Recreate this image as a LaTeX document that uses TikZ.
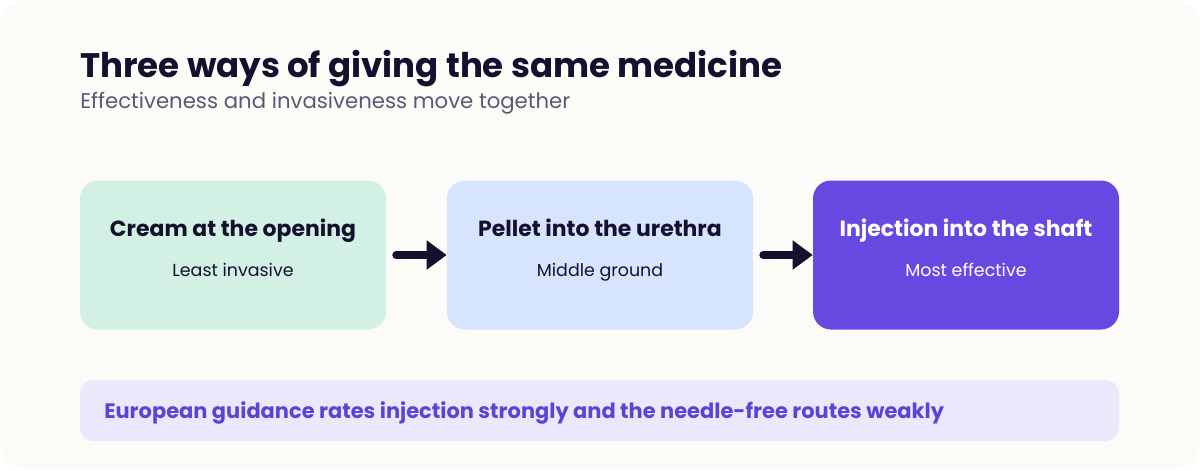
\documentclass[tikz,border=0pt]{standalone}
\usepackage{fontspec}
\setmainfont{Poppins}
\usepackage{tikz}
\usetikzlibrary{positioning, calc, arrows.meta}
\definecolor{ink}{HTML}{14112F}
\definecolor{subgray}{HTML}{5B5873}
\definecolor{paper}{HTML}{FDFBF7}
\definecolor{mint}{HTML}{D3F0E4}
\definecolor{skyblue}{HTML}{D6E4FD}
\definecolor{violet}{HTML}{6549E0}
\definecolor{lilac}{HTML}{ECE8FC}
\definecolor{notetext}{HTML}{5B43D6}

\begin{document}
\begin{tikzpicture}[x=0.025cm, y=-0.025cm,
    route/.style={rectangle, rounded corners=18*0.025cm, minimum width=306*0.025cm, minimum height=149*0.025cm, inner sep=0pt},
    routetitle/.style={anchor=base, inner sep=0pt, font=\fontsize{15.6}{18}\selectfont\bfseries, text=ink},
    routesub/.style={anchor=base, inner sep=0pt, font=\fontsize{12.4}{14}\selectfont, text=ink},
    step arrow/.style={draw=ink, line width=8*0.025cm, line cap=round, -{Triangle[length=20*0.025cm, width=28*0.025cm]}}]
\useasboundingbox (0,0) rectangle (1200,470);
\fill[white] (0,0) rectangle (1200,470);
\fill[paper, rounded corners=28*0.025cm] (0,0) rectangle (1200,470);

% heading
\node[anchor=base west, inner sep=0pt, text=ink, font=\fontsize{24.2}{28}\selectfont\bfseries] (title) at (80,77) {Three ways of giving the same medicine};
\node[anchor=base west, inner sep=0pt, text=subgray, font=\fontsize{15.1}{18}\selectfont] (subtitle) at (80,108) {Effectiveness and invasiveness move together};

% the three routes
\node[route, fill=mint] (cream) at (233,255) {};
\node[route, fill=skyblue] (pellet) at (600,255) {};
\node[route, fill=violet] (inject) at (966,255) {};

\node[routetitle] (creamT) at (233,236.5) {Cream at the opening};
\node[routesub] (creamS) at (233,276) {Least invasive};
\node[routetitle] (pelletT) at (600,236.5) {Pellet into the urethra};
\node[routesub] (pelletS) at (600,276) {Middle ground};
\node[routetitle, text=white] (injectT) at (966,236.5) {Injection into the shaft};
\node[routesub, text=white] (injectS) at (966,276) {Most effective};

\draw[step arrow] ([xshift=10*0.025cm]cream.east) -- (pellet.west);
\draw[step arrow] ([xshift=10*0.025cm]pellet.east) -- (inject.west);

% guidance note
\node[rectangle, rounded corners=14*0.025cm, fill=lilac, minimum width=1039*0.025cm, minimum height=61*0.025cm, inner sep=0pt] (note) at (599.5,410.5) {};
\node[anchor=base west, inner sep=0pt, text=notetext, font=\fontsize{14.9}{18}\selectfont\bfseries] (noteT) at (104,418.5) {European guidance rates injection strongly and the needle-free routes weakly};
\end{tikzpicture}
\end{document}
